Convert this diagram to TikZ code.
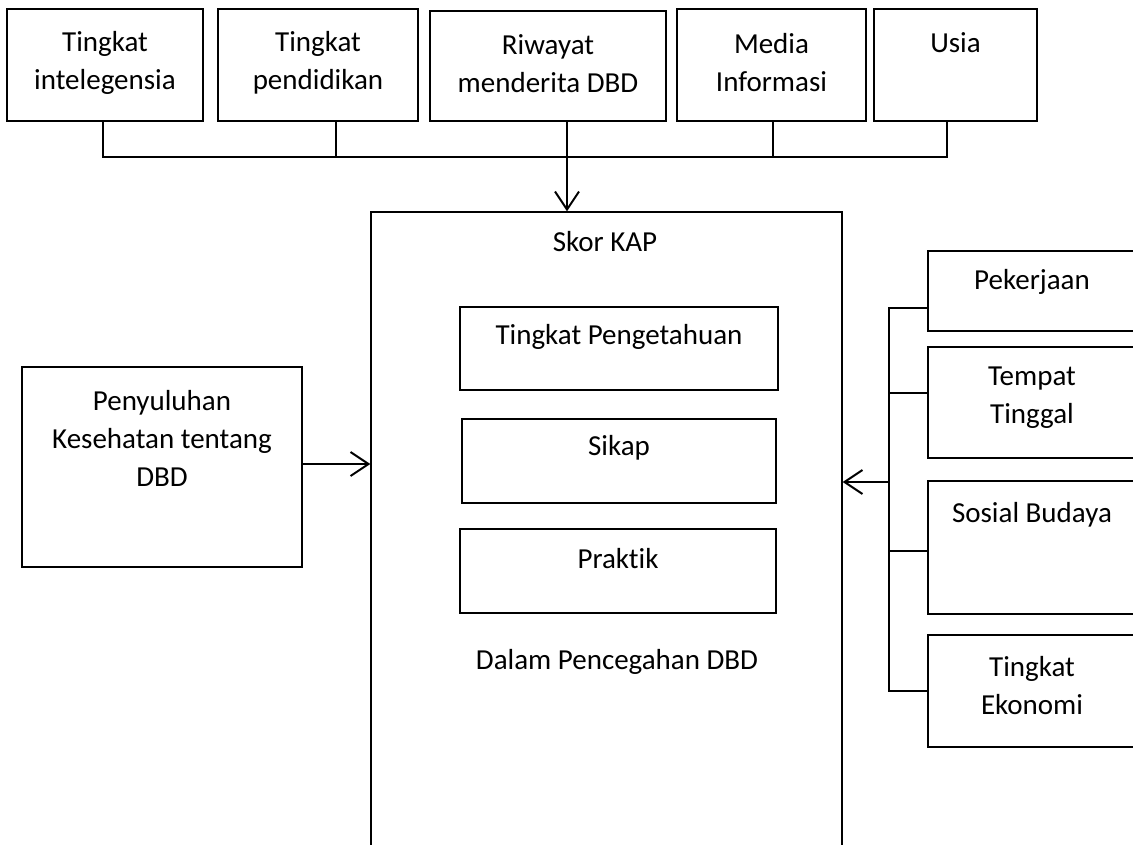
\documentclass[tikz,border=0pt]{standalone}
\usepackage{fontspec}
\setmainfont[Ligatures=NoCommon]{Carlito}
\usetikzlibrary{arrows.meta}
\begin{document}
\begin{tikzpicture}[x=1pt,y=-1pt,
  box/.style={draw=black, line width=1.3pt, inner sep=0pt},
  txt/.style={font=\fontsize{29}{38}\selectfont, align=center, inner sep=0pt},
  thin/.style={draw=black, line width=1.3pt},
  arr/.style={draw=black, line width=2pt, -{Straight Barb[length=18pt,width=24pt,line width=2pt]}}
]
\useasboundingbox (0,0) rectangle (1133,845);
\clip (0,0) rectangle (1133,845);
% top boxes
\node[box, minimum width=196pt, minimum height=112pt] (b1) at (105,65) {};
\node[box, minimum width=200pt, minimum height=112pt] (b2) at (318,65) {};
\node[box, minimum width=236pt, minimum height=110pt] (b3) at (548,66) {};
\node[box, minimum width=189pt, minimum height=112pt] (b4) at (771.5,65) {};
\node[box, minimum width=163pt, minimum height=112pt] (b5) at (955.5,65) {};
\node[txt] (t1) at (105,63) {Tingkat\\intelegensia};
\node[txt] (t2) at (318,63) {Tingkat\\pendidikan};
\node[txt] (t3) at (548,64) {Riwayat\\menderita DBD};
\node[txt] (t4) at (771.5,63) {Media\\Informasi};
\node[txt] (t5) at (955.5,43) {Usia};
% main box
\node[box, minimum width=471pt, minimum height=668pt] (main) at (606.5,546) {};
\node[txt] (skor) at (605,242) {Skor KAP};
\node[box, minimum width=318pt, minimum height=83pt] (in1) at (619,348.5) {};
\node[box, minimum width=314pt, minimum height=84pt] (in2) at (619,461) {};
\node[box, minimum width=316pt, minimum height=84pt] (in3) at (618,571) {};
\node[txt] (ti1) at (619,337) {Tingkat Pengetahuan};
\node[txt] (ti2) at (619,448) {Sikap};
\node[txt] (ti3) at (618,559) {Praktik};
\node[txt] (dalam) at (617,662) {Dalam Pencegahan DBD};
% left box
\node[box, minimum width=280pt, minimum height=200pt] (left) at (162,467) {};
\node[txt] (tl) at (162,438) {Penyuluhan\\Kesehatan tentang\\DBD};
% right boxes
\node[box, minimum width=208pt, minimum height=80pt] (r1) at (1032,291) {};
\node[box, minimum width=208pt, minimum height=111pt] (r2) at (1032,402.5) {};
\node[box, minimum width=208pt, minimum height=133pt] (r3) at (1032,547.5) {};
\node[box, minimum width=208pt, minimum height=112pt] (r4) at (1032,691) {};
\node[txt] (tr1) at (1032,282) {Pekerjaan};
\node[txt] (tr2) at (1032,398) {Tempat\\Tinggal};
\node[txt] (tr3) at (1032,515) {Sosial Budaya};
\node[txt] (tr4) at (1032,686) {Tingkat\\Ekonomi};
% top bus
\coordinate (busL) at (103,157);
\coordinate (busR) at (947,157);
\draw[thin] ([xshift=-2pt]b1.south) -- ([xshift=-2pt]b1.south |- busL) -- (busR) -- ([xshift=-8.5pt]b5.south);
\draw[thin] ([xshift=18pt]b2.south) -- ([xshift=18pt]b2.south |- busL);
\draw[thin] ([xshift=1.5pt]b4.south) -- ([xshift=1.5pt]b4.south |- busL);
\draw[arr] ([xshift=19pt]b3.south) -- ([xshift=19pt]b3.south |- main.north);
% left arrow
\draw[arr] ([yshift=3pt]left.east) -- ([yshift=3pt]left.east -| main.west);
% right bus
\coordinate (rbT) at (889,308);
\coordinate (rbB) at (889,691);
\coordinate (rbA) at (889,482);
\draw[thin] (rbT -| r1.west) -- (rbT) -- (rbB) -- (r4.west);
\draw[thin] ([yshift=9.5pt]r2.west) -- ([yshift=9.5pt]r2.west -| rbT);
\draw[thin] ([yshift=-3.5pt]r3.west) -- ([yshift=-3.5pt]r3.west -| rbT);
\draw[arr] (rbA) -- (rbA -| main.east);
\end{tikzpicture}
\end{document}
